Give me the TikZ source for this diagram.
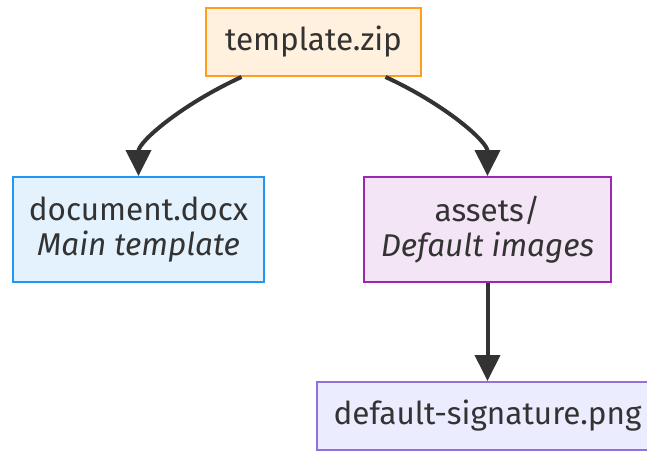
\documentclass[tikz,border=0pt]{standalone}
\usepackage{fontspec}
\setmainfont{Fira Sans}
\usetikzlibrary{arrows.meta}
\definecolor{txt}{HTML}{333333}
\definecolor{orfill}{HTML}{FFF1DD}
\definecolor{ordraw}{HTML}{FF9E1A}
\definecolor{blfill}{HTML}{E3F2FD}
\definecolor{bldraw}{HTML}{2196F3}
\definecolor{pufill}{HTML}{F3E5F5}
\definecolor{pudraw}{HTML}{9C27B0}
\definecolor{lvfill}{HTML}{ECECFF}
\definecolor{lvdraw}{HTML}{9370DB}
\tikzset{
  box/.style={draw, line width=2pt, text=txt, font=\fontsize{31.5}{35}\selectfont, align=center, inner sep=0pt, anchor=center},
  arr/.style={draw=txt, line width=4pt, -{Triangle[length=26pt,width=25pt]}},
}
\begin{document}
\begin{tikzpicture}[x=1pt,y=-1pt]
\useasboundingbox (0,0) rectangle (647,450);
\clip (0,0) rectangle (647,450);
\node[box, fill=orfill, draw=ordraw, minimum width=215pt, minimum height=68pt] (tz) at (313.5,42) {template.zip};
\node[box, fill=blfill, draw=bldraw, minimum width=251pt, minimum height=105pt] (doc) at (138.5,229.5) {document.docx\\\itshape Main template};
\node[box, fill=pufill, draw=pudraw, minimum width=247pt, minimum height=105pt] (ast) at (487.5,229.5) {assets/\\\itshape Default images};
\node[box, fill=lvfill, draw=lvdraw, minimum width=341pt, minimum height=68pt] (sig) at (487.5,416) {default-signature.png};
\draw[arr] ([xshift=-72pt]tz.south) .. controls +(-61,28) and +(0,-34) .. (doc.north);
\draw[arr] ([xshift=72pt]tz.south) .. controls +(61,28) and +(0,-34) .. (ast.north);
\draw[arr] (ast.south) -- (sig.north);
\end{tikzpicture}
\end{document}
